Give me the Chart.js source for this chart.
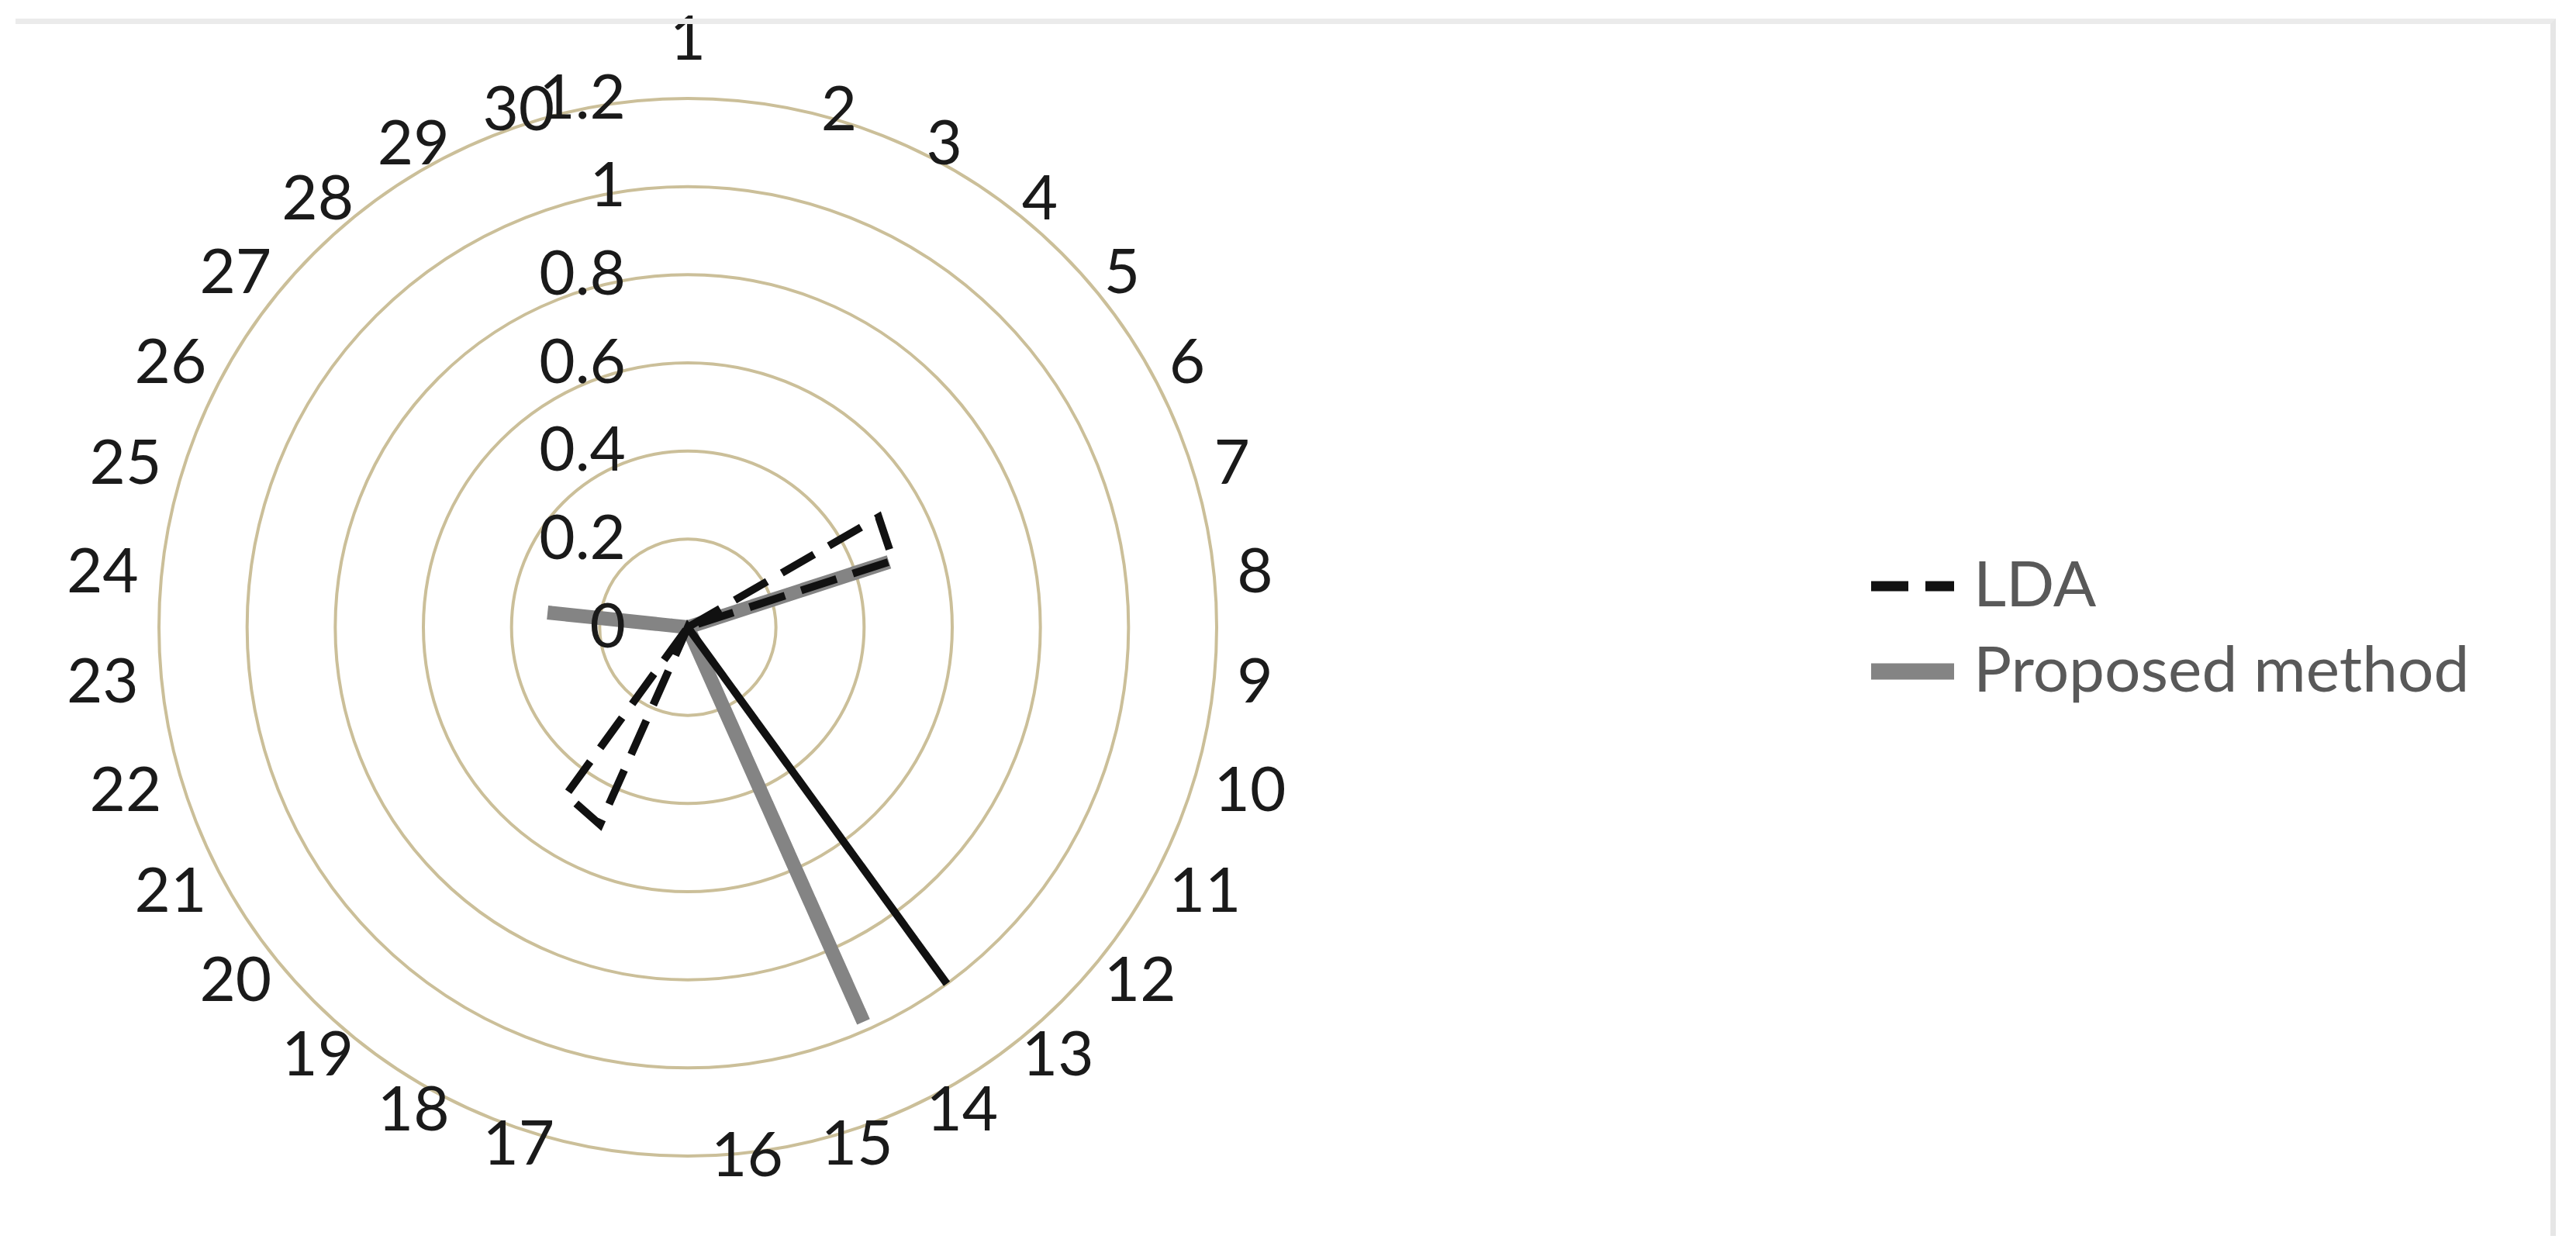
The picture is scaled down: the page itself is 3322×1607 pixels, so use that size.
<!DOCTYPE html>
<html>
<head>
<meta charset="utf-8">
<script src="https://cdn.jsdelivr.net/npm/chart.js@4.4.1/dist/chart.umd.min.js"></script>
<style>
  html, body { margin: 0; padding: 0; background: #fff; }
  #wrap { position: relative; width: 3322px; height: 1607px; }
  #frame {
    position: absolute; left: 20px; top: 24px; width: 3269px; height: 1563px;
    border-top: 7px solid #ebebeb; border-right: 7px solid #e6e6e6;
    pointer-events: none;
  }
</style>
</head>
<body>
<div id="wrap">
  <canvas id="radar"></canvas>
  <div id="frame"></div>
</div>
<script>
// Chart data
const categories = ['1', '2', '3', '4', '5', '6', '7', '8', '9', '10',
                    '11', '12', '13', '14', '15', '16', '17', '18', '19', '20',
                    '21', '22', '23', '24', '25', '26', '27', '28', '29', '30'];
const tickValues = [0, 0.2, 0.4, 0.6, 0.8, 1, 1.2];
const tickLabels = ['0', '0.2', '0.4', '0.6', '0.8', '1', '1.2'];
const seriesNames = ['LDA', 'Proposed method'];
const ldaValues = [0, 0, 0, 0, 0, 0.5, 0.49, 0, 0, 0,
                   0, 0, 1.0, 0, 0, 0, 0, 0.49, 0.47, 0,
                   0, 0, 0, 0, 0, 0, 0, 0, 0, 0];
const proposedValues = [0, 0, 0, 0, 0, 0, 0.48, 0, 0, 0,
                        0, 0, 0, 0.98, 0, 0, 0, 0, 0, 0,
                        0, 0, 0, 0.32, 0, 0, 0, 0, 0, 0];

const labelFont = '80px Lato, "Liberation Sans", sans-serif';
const legendFont = '82px Lato, "Liberation Sans", sans-serif';

// Excel-like text: value labels left of the axis, category labels beside the outer ring, legend
const radarText = {
    id: 'radarText',
    afterDatasetsDraw(chart) {
        const ctx = chart.ctx;
        const r = chart.scales.r;
        const R = r.drawingArea;
        ctx.save();
        ctx.font = labelFont;
        ctx.fillStyle = '#1a1a1a';

        ctx.textAlign = 'right';
        ctx.textBaseline = 'middle';
        tickValues.forEach((v, i) => {
            const y = r.yCenter - r.getDistanceFromCenterForValue(v);
            ctx.fillText(tickLabels[i], r.xCenter - 80, y);
        });

        const n = categories.length;
        categories.forEach((c, i) => {
            const p = r.getPointPosition(i, R);
            const deg = i * 360 / n;
            if (i === 0) {
                ctx.textAlign = 'center';
                ctx.textBaseline = 'alphabetic';
                ctx.fillText(c, p.x, p.y - 50);
            } else if (deg <= 180) {
                ctx.textAlign = 'left';
                ctx.textBaseline = 'middle';
                ctx.fillText(c, p.x + 30, p.y);
            } else {
                ctx.textAlign = 'right';
                ctx.textBaseline = 'middle';
                ctx.fillText(c, p.x - 30, p.y);
            }
        });

        // legend
        const legendRows = [756, 866];
        ctx.font = legendFont;
        ctx.textAlign = 'left';
        ctx.textBaseline = 'middle';
        chart.data.datasets.forEach((ds, i) => {
            const y = legendRows[i];
            ctx.save();
            ctx.strokeStyle = ds.borderColor;
            ctx.lineWidth = ds.borderWidth + 3;
            ctx.setLineDash(i === 0 ? ds.borderDash : []);
            ctx.beginPath();
            ctx.moveTo(2413, y);
            ctx.lineTo(2520, y);
            ctx.stroke();
            ctx.restore();
            ctx.fillStyle = '#595959';
            ctx.fillText(ds.label, 2545, y);
        });
        ctx.restore();
    }
};

function initRadar() {
    const ctx = document.getElementById('radar').getContext('2d');
    new Chart(ctx, {
        type: 'radar',
        data: {
            labels: categories,
            datasets: [{
                label: seriesNames[0],
                data: ldaValues,
                borderColor: '#111111',
                borderWidth: 10,
                borderDash: [48, 22],
                fill: false,
                pointRadius: 0,
                tension: 0
            }, {
                label: seriesNames[1],
                data: proposedValues,
                borderColor: '#848484',
                borderWidth: 18,
                borderDash: [50, 18],
                fill: false,
                pointRadius: 0,
                tension: 0
            }]
        },
        options: {
            responsive: true,
            maintainAspectRatio: false,
            animation: false,
            layout: { padding: { left: 205, top: 127, right: 1753, bottom: 116 } },
            scales: {
                r: {
                    min: 0,
                    max: 1.2,
                    ticks: { stepSize: 0.2, display: false },
                    grid: { circular: true, color: '#cbbf99', lineWidth: 4 },
                    angleLines: { display: false },
                    pointLabels: { display: false }
                }
            },
            plugins: { legend: { display: false }, tooltip: { enabled: false } }
        },
        plugins: [radarText]
    });
}

document.addEventListener('DOMContentLoaded', initRadar);
</script>
</body>
</html>
